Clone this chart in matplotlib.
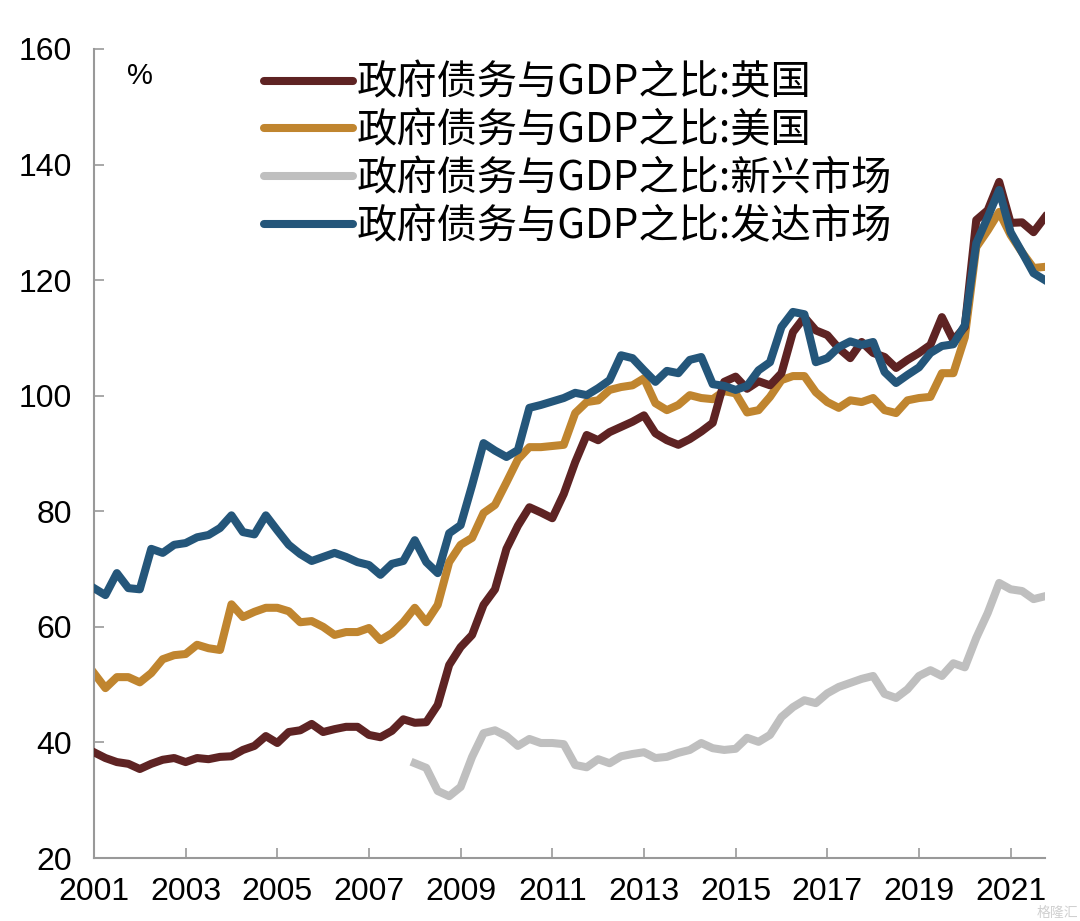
import matplotlib
matplotlib.use("Agg")
import matplotlib.pyplot as plt
import numpy as np

# 季度数据 2001Q1 - 2021Q4
quarters = np.arange(2001, 2022, 0.25)

uk = [38.3, 37.3, 36.6, 36.3, 35.4, 36.3, 37.0, 37.3, 36.6, 37.3, 37.1, 37.5,
      37.6, 38.7, 39.4, 41.1, 39.9, 41.8, 42.1, 43.2, 41.8, 42.3, 42.7, 42.7,
      41.3, 40.9, 42.0, 44.0, 43.4, 43.5, 46.5, 53.4, 56.5,
      58.6, 63.8, 66.5, 73.5, 77.5, 80.7, 79.8, 78.8, 83.0, 88.5, 93.2, 92.3,
      93.7, 94.6, 95.5, 96.6, 93.5, 92.3, 91.5, 92.5, 93.8, 95.3, 102.4, 103.3,
      101.2, 102.5,
      101.8, 103.9, 111.0, 113.6, 111.3, 110.5, 108.2, 106.5, 109.3, 107.4,
      106.7, 104.8, 106.2, 107.4, 108.8, 113.6, 109.6, 111.9, 130.4, 132.1,
      137.0, 129.9, 130.0, 128.3, 130.9]

us = [52.0, 49.4, 51.3, 51.3, 50.4, 52.0, 54.4, 55.1, 55.3, 56.9, 56.3, 56.0,
      63.9, 61.7, 62.6, 63.3, 63.3, 62.7, 60.8, 61.0, 60.0, 58.6, 59.1, 59.1,
      59.8, 57.7, 58.9, 60.8, 63.3, 60.8, 63.8, 71.2, 74.2,
      75.4, 79.7, 81.1, 85.0, 89.0,
      91.1, 91.1, 91.3, 91.5, 97.0, 98.9, 99.2, 101.0, 101.5, 101.8, 103.0,
      98.7, 97.5, 98.4, 100.1, 99.6, 99.4, 100.8, 100.4, 97.1, 97.5,
      99.8, 102.7, 103.4, 103.4, 100.6, 98.9, 97.9, 99.2, 98.9, 99.6, 97.5,
      97.0, 99.2, 99.6, 99.8, 103.9, 103.9, 110.1, 125.7, 128.6, 131.8, 127.8,
      124.8, 122.1, 122.3]

em = [np.nan] * 28 + [
      36.4, 35.6, 31.6, 30.7, 32.3, 37.5, 41.6, 42.1, 41.1, 39.4, 40.6, 39.9,
      39.9, 39.7, 36.1, 35.7, 37.1, 36.4, 37.6, 38.0, 38.3, 37.3, 37.5, 38.2,
      38.7, 39.9, 39.0, 38.7, 38.9, 40.8, 40.1, 41.3, 44.4, 46.1, 47.3, 46.8,
      48.5, 49.6, 50.3, 51.0, 51.5, 48.4, 47.7, 49.2, 51.5, 52.5, 51.5, 53.7,
      53.0, 58.1, 62.4, 67.6, 66.5, 66.2, 64.8, 65.3]

dm = [66.7, 65.5, 69.3, 66.7, 66.5, 73.5, 72.8, 74.2, 74.5, 75.5, 75.9, 77.1,
      79.3, 76.4, 76.0, 79.3, 76.7, 74.2, 72.6, 71.4, 72.1, 72.8, 72.1, 71.2,
      70.7, 69.0, 70.9, 71.4, 75.0, 71.2, 69.3, 76.2, 77.6,
      84.5, 91.8, 90.5, 89.4, 90.6, 97.9, 98.4, 99.0, 99.6, 100.5, 100.1,
      101.3, 102.7, 107.0, 106.5, 104.4, 102.4, 104.3, 103.9, 106.2, 106.7,
      102.0, 101.7, 101.0, 101.7, 104.4,
      105.8, 111.9, 114.5, 114.1, 105.8, 106.5, 108.4, 109.4, 108.8, 109.3,
      104.1, 102.2, 103.6, 104.9, 107.4, 108.6, 108.9, 112.2, 126.4, 130.9,
      135.6, 128.3, 124.8, 121.2, 120.0]

labels = ['政府债务与GDP之比:英国', '政府债务与GDP之比:美国',
          '政府债务与GDP之比:新兴市场', '政府债务与GDP之比:发达市场']
colors = ['#5E2323', '#C0852F', '#BFBFBF', '#24567A']
xticks = list(range(2001, 2022, 2))

plt.rcParams['font.family'] = ['Liberation Sans Narrow', 'Liberation Sans', 'DejaVu Sans']

fig = plt.figure(figsize=(10.8, 9.21), dpi=100)
ax = fig.add_axes([0.087, 0.0684, 0.8806, 0.8784])

lw = 5.8
ax.plot(quarters, uk, color=colors[0], lw=lw, label=labels[0], zorder=3, solid_joinstyle='round')
ax.plot(quarters, us, color=colors[1], lw=lw, label=labels[1], zorder=2, solid_joinstyle='round')
ax.plot(quarters, em, color=colors[2], lw=lw, label=labels[2], zorder=2, solid_joinstyle='round')
ax.plot(quarters, dm, color=colors[3], lw=lw, label=labels[3], zorder=4, solid_joinstyle='round')

ax.set_xlim(2001, 2021.75)
ax.set_ylim(20, 160)
ax.set_yticks(range(20, 161, 20))
ax.set_xticks(xticks)
ax.set_xticklabels([str(x) for x in xticks])

for s in ['top', 'right']:
    ax.spines[s].set_visible(False)
for s in ['left', 'bottom']:
    ax.spines[s].set_color('#999999')
    ax.spines[s].set_linewidth(1.5)
ax.tick_params(direction='in', length=7, width=1.2, color='#999999', labelsize=23)
ax.tick_params(axis='x', pad=14)
ax.tick_params(axis='y', pad=16)

ax.text(0.048, 0.967, '%', transform=ax.transAxes, fontsize=21,
        ha='center', va='center', family=['Liberation Sans', 'DejaVu Sans'])

leg = ax.legend(loc='upper left', bbox_to_anchor=(0.158, 1.008), frameon=False,
                prop={'family': ['Noto Sans CJK SC', 'DejaVu Sans'], 'size': 29},
                handlelength=2.2, handletextpad=0.08, labelspacing=0.17, borderpad=0)
for h in leg.get_lines():
    h.set_solid_capstyle('round')
    h.set_linewidth(5.8)

fig.text(0.998, 0.001, '格隆汇', ha='right', va='bottom', fontsize=10, color='#d0d0d0',
         family=['Noto Sans CJK SC', 'DejaVu Sans'])

fig.savefig('out.png', dpi=100)
